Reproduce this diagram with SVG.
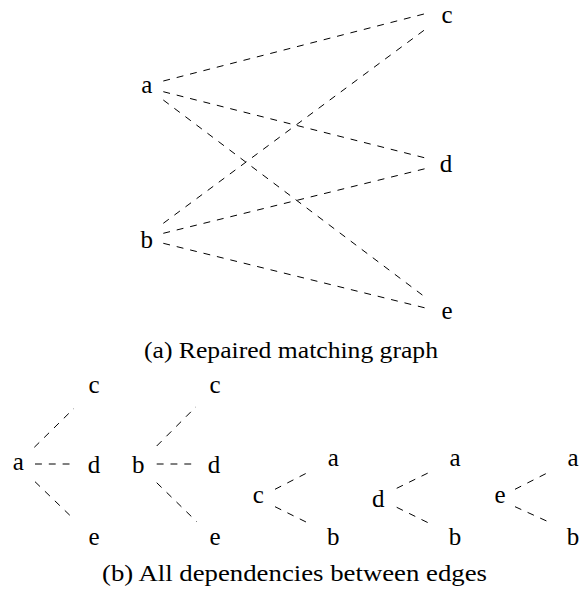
<svg xmlns="http://www.w3.org/2000/svg" width="582" height="597" viewBox="0 0 582 597">
<style>
text{font-family:'Liberation Serif','Times New Roman',serif;font-size:25px;fill:#000;text-anchor:middle}
.cap{font-size:24px}
.e{stroke:#000;stroke-width:1;stroke-dasharray:6.9 6.9;fill:none}
</style>
<rect width="582" height="597" fill="#fff"/>
<g id="edges">
<line class="e" x1="163.3" y1="81" x2="426.7" y2="13.3"/>
<line class="e" x1="163.3" y1="91.7" x2="426.7" y2="158.3"/>
<line class="e" x1="163.3" y1="100" x2="426.7" y2="298.3"/>
<line class="e" x1="163.3" y1="223.3" x2="426.7" y2="28.3"/>
<line class="e" x1="163.3" y1="233.3" x2="426.7" y2="168.3"/>
<line class="e" x1="163.3" y1="243.3" x2="426.7" y2="308.3"/>
<line class="e" x1="34.3" y1="447.3" x2="74" y2="408.3"/>
<line class="e" x1="35" y1="464" x2="75" y2="464"/>
<line class="e" x1="35" y1="481.7" x2="74" y2="519.3"/>
<line class="e" x1="156.7" y1="446" x2="196" y2="406.7"/>
<line class="e" x1="156.7" y1="464" x2="196.7" y2="464"/>
<line class="e" x1="156.7" y1="482.7" x2="196.7" y2="521.7"/>
<line class="e" x1="275" y1="489.3" x2="310.7" y2="471"/>
<line class="e" x1="275" y1="506.7" x2="310.7" y2="524.3"/>
<line class="e" x1="396.7" y1="488.3" x2="432.7" y2="470.7"/>
<line class="e" x1="396.7" y1="507.3" x2="432.7" y2="525"/>
<line class="e" x1="515" y1="489.3" x2="551.7" y2="470.7"/>
<line class="e" x1="515" y1="506.7" x2="551.7" y2="523.3"/>
</g>
<g id="node-a"><text x="146.7" y="93">a</text></g>
<g id="node-b"><text x="146.7" y="248">b</text></g>
<g id="node-c"><text x="447" y="23">c</text></g>
<g id="node-d"><text x="446" y="172">d</text></g>
<g id="node-e"><text x="447" y="319">e</text></g>
<g id="caption-a"><text class="cap" x="291" y="358" textLength="294" lengthAdjust="spacingAndGlyphs">(a) Repaired matching graph</text></g>
<g id="tree1">
<text x="18.3" y="470">a</text>
<text x="94" y="393">c</text>
<text x="94" y="473">d</text>
<text x="94" y="545">e</text>
</g>
<g id="tree2">
<text x="138.3" y="473">b</text>
<text x="215" y="393">c</text>
<text x="214" y="473">d</text>
<text x="215" y="545">e</text>
</g>
<g id="tree3">
<text x="258.3" y="503">c</text>
<text x="333.3" y="466">a</text>
<text x="333.3" y="545">b</text>
</g>
<g id="tree4">
<text x="378.3" y="507">d</text>
<text x="455" y="466">a</text>
<text x="455" y="545">b</text>
</g>
<g id="tree5">
<text x="500" y="503">e</text>
<text x="573" y="466">a</text>
<text x="573" y="545">b</text>
</g>
<g id="caption-b"><text class="cap" x="294.5" y="581" textLength="385" lengthAdjust="spacingAndGlyphs">(b) All dependencies between edges</text></g>
</svg>
